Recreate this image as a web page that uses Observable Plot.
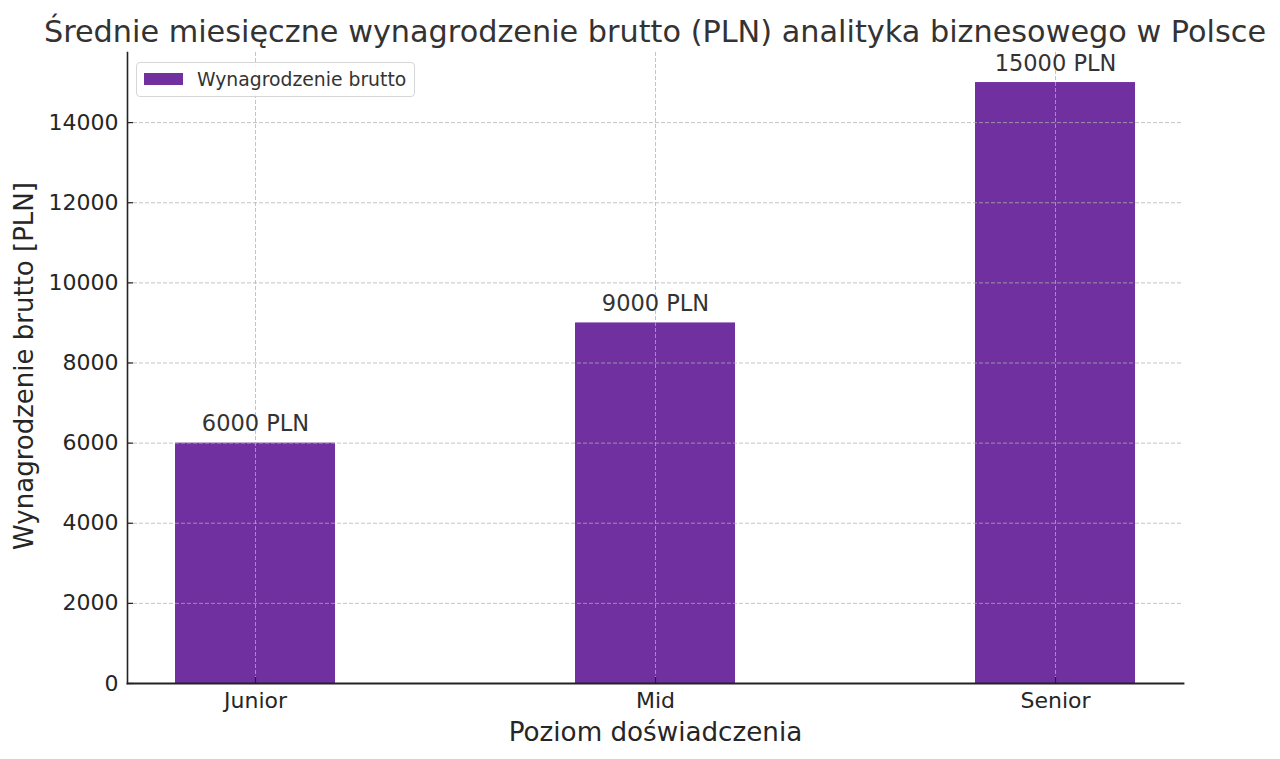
<!DOCTYPE html>
<html>
<head>
<meta charset="utf-8">
<script src="https://cdn.jsdelivr.net/npm/d3@7"></script>
<script src="https://cdn.jsdelivr.net/npm/@observablehq/plot@0.6"></script>
<style>
  html, body { margin: 0; padding: 0; background: #fff; }
  #wrap { position: relative; width: 1280px; height: 759px; font-family: "DejaVu Sans", sans-serif; }
  #title { position: absolute; left: 0; top: 16.5px; width: 1310px; text-align: center; font-size: 30.3px; line-height: 30px; color: #333; white-space: nowrap; }
  #legend { position: absolute; left: 136px; top: 62px; width: 277px; height: 33px; border: 1px solid #d6d6d6; border-radius: 4px; background: rgba(255,255,255,0.85); }
  #legend .sw { position: absolute; left: 7px; top: 10px; width: 39px; height: 12px; background: #7030A0; }
  #legend .lb { position: absolute; left: 60px; top: 0px; font-size: 18.8px; line-height: 33px; color: #333; white-space: nowrap; }
</style>
</head>
<body>
<div id="wrap">
  <div id="chart"></div>
  <div id="title"></div>
  <div id="legend"><div class="sw"></div><div class="lb"></div></div>
</div>
<script>
const titleText = "Średnie miesięczne wynagrodzenie brutto (PLN) analityka biznesowego w Polsce";
const xLabel = "Poziom doświadczenia";
const yLabel = "Wynagrodzenie brutto [PLN]";
const seriesName = "Wynagrodzenie brutto";
const levels = ["Junior", "Mid", "Senior"];
const salaries = [6000, 9000, 15000];
const yTicks = [0, 2000, 4000, 6000, 8000, 10000, 12000, 14000];
const barColor = "#7030A0";

const data = levels.map((level, i) => ({level, salary: salaries[i]}));

document.getElementById("title").textContent = titleText;
document.querySelector("#legend .lb").textContent = seriesName;

const gridStyle = {stroke: "#b0b0b0", strokeOpacity: 0.75, strokeDasharray: "4,2", strokeWidth: 1};

const chart = Plot.plot({
  width: 1280,
  height: 759,
  marginLeft: 127,
  marginRight: 97,
  marginTop: 52,
  marginBottom: 76,
  style: {fontFamily: "DejaVu Sans, sans-serif", background: "transparent", color: "#333"},
  x: {domain: levels, paddingInner: 0.6, paddingOuter: 0.12, axis: null},
  y: {domain: [0, 15750], axis: null},
  marks: [
    Plot.barY(data, {x: "level", y: "salary", fill: barColor}),
    Plot.gridY({ticks: yTicks, ...gridStyle}),
    Plot.gridX({...gridStyle}),
    Plot.axisY({ticks: yTicks, tickSize: 6, dx: 6, tickFormat: () => "", label: null, stroke: "#222", strokeWidth: 1.2}),
    Plot.axisY({ticks: yTicks, tickSize: 0, tickPadding: 9, fontSize: 22, fill: "#262626", label: null, tickFormat: d => String(d)}),
    Plot.axisX({tickSize: 6, dy: -6, tickFormat: () => "", label: null, stroke: "#222", strokeWidth: 1.2}),
    Plot.axisX({tickSize: 0, tickPadding: 9, fontSize: 22, fill: "#262626", label: null}),
    Plot.frame({anchor: "left", stroke: "#222", strokeWidth: 1.6}),
    Plot.frame({anchor: "bottom", stroke: "#222", strokeWidth: 1.8}),
    Plot.text(data, {x: "level", y: "salary", text: d => `${d.salary} PLN`, lineAnchor: "bottom", dy: -12, fontSize: 22.5, fill: "#333"}),
    Plot.text([yLabel], {text: d => d, frameAnchor: "left", textAnchor: "middle", rotate: -90, dx: -103, dy: -2, fontSize: 26, fill: "#262626"}),
    Plot.text([xLabel], {text: d => d, frameAnchor: "bottom", lineAnchor: "bottom", dy: 57, fontSize: 26.2, fill: "#262626"})
  ]
});
document.getElementById("chart").appendChild(chart);
</script>
</body>
</html>
